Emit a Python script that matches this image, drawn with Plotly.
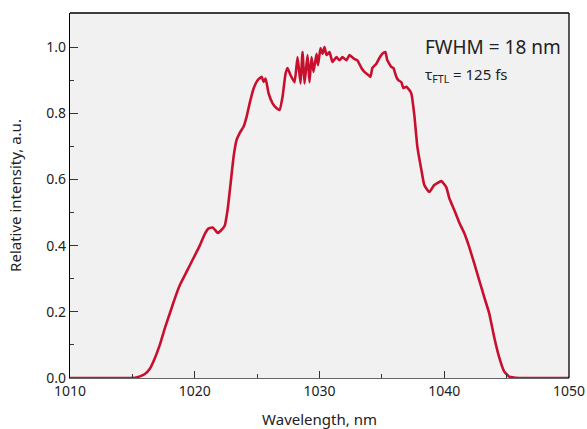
import plotly.graph_objects as go

wavelength = [1010.0, 1012.0, 1014.0, 1015.2, 1015.6, 1016.0, 1016.4, 1016.8, 1017.2, 1017.6,
              1018.0, 1018.4, 1018.8, 1019.2, 1019.6, 1020.0, 1020.4, 1020.8, 1021.12, 1021.44,
              1021.68, 1021.84, 1022.08, 1022.4, 1022.64, 1022.88, 1023.12, 1023.36, 1023.6, 1023.92,
              1024.16, 1024.4, 1024.72, 1025.04, 1025.36, 1025.52, 1025.68, 1025.92, 1026.24, 1026.56,
              1026.8, 1027.04, 1027.28, 1027.44, 1027.68, 1028.0, 1028.24, 1028.48, 1028.64, 1028.8,
              1029.04, 1029.2, 1029.36, 1029.52, 1029.76, 1029.88, 1030.08, 1030.24, 1030.4, 1030.56,
              1030.8, 1031.04, 1031.36, 1031.6, 1031.84, 1032.16, 1032.4, 1032.8, 1033.04, 1033.36,
              1033.6, 1033.84, 1034.08, 1034.24, 1034.56, 1034.8, 1035.04, 1035.28, 1035.44, 1035.76,
              1035.92, 1036.16, 1036.32, 1036.56, 1036.72, 1036.96, 1037.2, 1037.36, 1037.6, 1037.84,
              1038.16, 1038.4, 1038.8, 1039.2, 1039.76, 1040.16, 1040.4, 1040.8, 1041.2, 1041.6,
              1042.0, 1042.4, 1042.8, 1043.2, 1043.6, 1044.0, 1044.4, 1044.8, 1045.2, 1046.0,
              1048.0, 1050.0]
intensity = [0.0, 0.0, 0.0, 0.001, 0.005, 0.012, 0.028, 0.06, 0.10, 0.15,
             0.195, 0.24, 0.28, 0.31, 0.34, 0.37, 0.40, 0.435, 0.452, 0.455,
             0.445, 0.438, 0.445, 0.46, 0.51, 0.59, 0.67, 0.72, 0.74, 0.76,
             0.79, 0.83, 0.875, 0.90, 0.91, 0.895, 0.905, 0.86, 0.83, 0.815,
             0.81, 0.85, 0.92, 0.937, 0.915, 0.894, 0.97, 0.89, 0.985, 0.89,
             0.976, 0.894, 0.97, 0.925, 0.98, 0.945, 0.997, 0.98, 1.0, 0.976,
             0.985, 0.955, 0.97, 0.96, 0.97, 0.96, 0.976, 0.964, 0.96, 0.937,
             0.925, 0.918, 0.91, 0.937, 0.95, 0.967, 0.98, 0.985, 0.96, 0.94,
             0.937, 0.91, 0.90, 0.894, 0.876, 0.88, 0.87, 0.86, 0.795, 0.70,
             0.63, 0.583, 0.562, 0.583, 0.595, 0.577, 0.544, 0.508, 0.47, 0.438,
             0.396, 0.347, 0.296, 0.245, 0.196, 0.124, 0.063, 0.02, 0.004, 0.0,
             0.0, 0.0]

x_ticks = [1010, 1020, 1030, 1040, 1050]
y_ticks = [0.0, 0.2, 0.4, 0.6, 0.8, 1.0]
y_tick_labels = ["0.0", "0.2", "0.4", "0.6", "0.8", "1.0"]

FONT = "Noto Sans"

fig = go.Figure()
fig.add_trace(go.Scatter(x=wavelength, y=intensity, mode="lines",
                         line=dict(color="#C8102E", width=2.6, shape="spline", smoothing=0.4),
                         showlegend=False))

fig.update_layout(
    width=587, height=429,
    margin=dict(l=70, r=18, t=13, b=51, autoexpand=False),
    paper_bgcolor="white",
    plot_bgcolor="#F1F1F1",
    font=dict(family=FONT, size=14, color="#222"),
    xaxis=dict(range=[1010, 1050], tickvals=x_ticks, ticks="inside", ticklen=7,
               tickcolor="#333", showline=True, linecolor="#666", linewidth=1,
               showgrid=False, zeroline=False, automargin=False,
               minor=dict(dtick=5, ticks="inside", ticklen=4, tickcolor="#333"),
               title=dict(text="Wavelength, nm", font=dict(size=15), standoff=16)),
    yaxis=dict(range=[0, 1.103], tickvals=y_ticks, ticktext=y_tick_labels, ticks="inside",
               ticklen=8, tickcolor="#333", showline=True, linecolor="black", linewidth=1.3,
               showgrid=False, zeroline=False, automargin=False,
               minor=dict(dtick=0.1, ticks="inside", ticklen=4, tickcolor="#333"),
               title=dict(text="Relative intensity, a.u.", font=dict(size=15), standoff=21)),
    shapes=[
        dict(type="line", xref="paper", yref="paper", x0=0, x1=1, y0=1, y1=1,
             line=dict(color="black", width=1.3)),
        dict(type="line", xref="paper", yref="paper", x0=1, x1=1, y0=0, y1=1,
             line=dict(color="black", width=1.3)),
    ],
    annotations=[
        dict(text="FWHM = 18 nm", xref="paper", yref="paper", x=0.708, y=0.908,
             xanchor="left", yanchor="middle", showarrow=False, font=dict(size=19, color="#222")),
        dict(text="τ<sub>FTL</sub> = 125 fs", xref="paper", yref="paper", x=0.708, y=0.83,
             xanchor="left", yanchor="middle", showarrow=False, font=dict(size=15, color="#222")),
    ],
)

fig.write_html("out.html", config={"displayModeBar": False},
               post_script="document.body.style.margin='0';document.body.style.overflow='hidden';")
